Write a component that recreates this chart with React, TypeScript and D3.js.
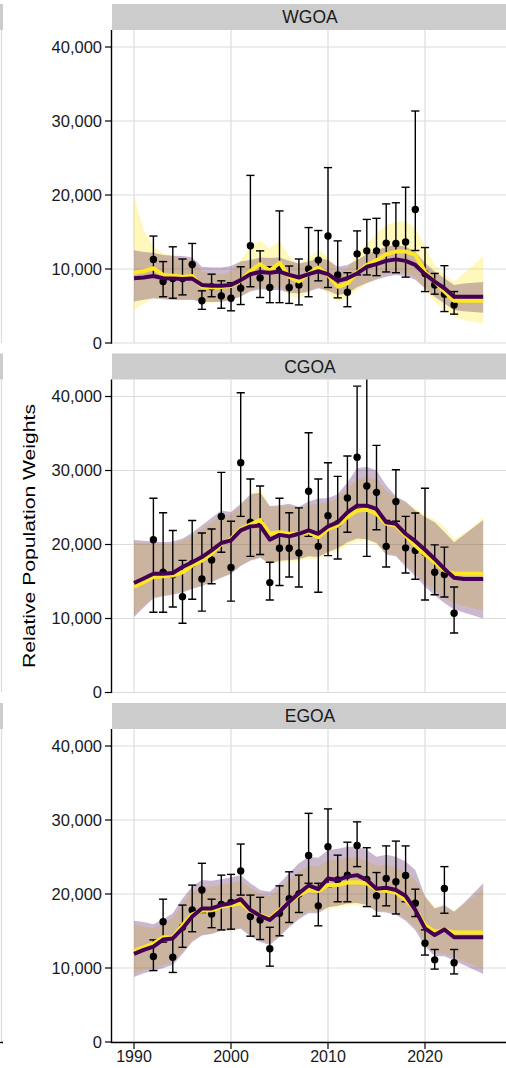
import React from "react";
import * as d3 from "d3";

// ---------- data ----------
const regions = ["WGOA", "CGOA", "EGOA"];
const lineYears = d3.range(1990, 2027); // 1990..2026
const obsYears = d3.range(1992, 2024); // 1992..2023
const yTicks = [0, 10000, 20000, 30000, 40000];
const xTicks = [1990, 2000, 2010, 2020];

// WGOA
const wgoaObs = [
  11300, 8300, 8700, 8700, 10600, 5700, 7600, 6350,
  6050, 7400, 13150, 8800, 7500, 10200, 7500, 7850, 10000, 11200,
  14450, 9200, 6850, 12050, 12450, 12450, 13500, 13450, 13650, 18050,
  9400, 7850, 6600, 5150,
];
const wgoaObsLo = [
  9000, 6250, 6050, 6500, 8600, 4550, 6250, 4700,
  4350, 5200, 7600, 6150, 5450, 5450, 5350, 5150, 6250, 8400,
  7500, 6100, 4900, 9200, 9200, 9100, 9600, 9500, 8900, 12500,
  6950, 6600, 4250, 3900,
];
const wgoaObsHi = [
  14450, 11000, 13000, 11350, 13450, 7050, 9300, 8400,
  8150, 10300, 22650, 12450, 10300, 17850, 10400, 11350, 15600, 15200,
  23700, 13800, 9500, 15150, 16700, 16850, 18800, 18950, 21050, 31350,
  12900, 9400, 10450, 6950,
];
const wgoaYellow = [
  9500, 9700, 10100, 9200, 9100, 8950, 9050, 7600, 7500, 7550,
  7700, 8400, 9750, 10650, 9750, 10850, 8950, 8300, 9400, 10200,
  9200, 7600, 8050, 9550, 10550, 11200, 12000, 12350, 12350, 11900,
  9650, 8300, 6950, 5700, 5700, 5700, 5700,
];
const wgoaYellowLo = [
  4450, 5350, 6050, 6050, 6050, 5900, 6050, 5350, 5450, 5550,
  5900, 6250, 7150, 7600, 7150, 7700, 6500, 6050, 6950, 7600,
  6700, 5600, 6050, 7150, 8050, 8750, 9400, 9500, 9400, 8950,
  7150, 5600, 4450, 3550, 3100, 2900, 2650,
];
const wgoaYellowHi = [
  19800, 15300, 13000, 12100, 11800, 11450, 11200, 9650, 9400, 9300,
  9650, 11200, 13000, 13900, 12800, 13900, 11650, 10550, 11650, 12550,
  11650, 9650, 10100, 12100, 13450, 14800, 15950, 16400, 16500, 15500,
  13000, 10550, 9200, 8300, 9400, 10550, 11750,
];
const wgoaPurple = [
  8750, 8850, 9050, 8750, 8700, 8650, 8700, 7850, 7750, 7750,
  7850, 8500, 9300, 9600, 9500, 9650, 9200, 8850, 9300, 9700,
  9300, 8400, 8750, 9400, 10300, 10650, 11100, 11300, 11100, 10550,
  9300, 8300, 7400, 6250, 6250, 6250, 6250,
];
const wgoaPurpleLo = [
  5600, 5850, 6050, 5900, 5800, 5800, 5800, 5600, 5550, 5550,
  5800, 6300, 6950, 7250, 7150, 7150, 6800, 6700, 6950, 7400,
  7050, 6500, 6700, 7550, 8100, 8550, 8950, 9200, 9050, 8550,
  7400, 6250, 5350, 4450, 4300, 4200, 4100,
];
const wgoaPurpleHi = [
  12550, 12300, 12200, 11900, 11800, 11750, 11600, 10300, 10200, 10200,
  10400, 11000, 11200, 11550, 11500, 11550, 11100, 10750, 11000, 11450,
  11200, 10300, 10550, 11200, 12000, 12550, 13000, 13250, 13000, 12350,
  10800, 9650, 8750, 7850, 8050, 8150, 8250,
];

// CGOA
const cgoaObs = [
  20650, 16250, 15900, 12950, 17400, 15350, 17900, 23800,
  16900, 31050, 23000, 22900, 14850, 19500, 19500, 18850, 27200, 19750,
  23900, 22800, 26300, 31800, 27900, 27050, 19750, 25800, 19550, 19200,
  18900, 16250, 15950, 10700,
];
const cgoaObsLo = [
  10850, 10850, 11550, 9350, 12600, 11000, 14700, 18950,
  12350, 23800, 18400, 18650, 12500, 14450, 15600, 14250, 21100, 13550,
  18500, 18050, 21650, 24800, 18400, 22000, 16950, 23150, 16150, 15300,
  12500, 13200, 12900, 8050,
];
const cgoaObsHi = [
  26250, 24300, 21900, 17850, 23250, 21550, 22100, 29750,
  23150, 40500, 28850, 27900, 17600, 26250, 24300, 24950, 35100, 28850,
  31050, 29200, 31950, 41400, 45000, 33400, 23250, 30100, 23800, 24250,
  27600, 19950, 19650, 14250,
];
const cgoaYellow = [
  14250, 14900, 15600, 15700, 15800, 16250, 17150, 17850, 18750, 20100,
  20750, 22100, 22700, 23300, 21450, 21650, 21450, 21450, 21650, 21000,
  22100, 22550, 23700, 24600, 24700, 24150, 22800, 22550, 21200, 19850,
  18650, 17600, 16500, 16050, 16050, 16050, 16050,
];
const cgoaYellowLo = [
  10500, 11700, 12900, 13100, 13300, 13600, 14100, 14500, 15000, 15600,
  16100, 17200, 17900, 18300, 17300, 17600, 17700, 17800, 18100, 18000,
  18700, 19100, 19900, 20400, 20400, 20000, 18700, 18600, 17300, 16100,
  14800, 13800, 12800, 12000, 11700, 11400, 11100,
];
const cgoaYellowHi = [
  20300, 20200, 20100, 20000, 20100, 20500, 21200, 22100, 23000, 24000,
  24000, 25300, 26600, 27650, 25100, 25100, 25300, 24900, 25300, 25500,
  25700, 26300, 27500, 28800, 29200, 28800, 27200, 26400, 25600, 24900,
  24000, 23400, 22400, 20700, 21500, 22500, 23600,
];
const cgoaPurple = [
  14800, 15400, 16050, 16050, 16150, 16950, 17600, 18300, 19200, 20200,
  20550, 21900, 22450, 22550, 20650, 21300, 21100, 21450, 21900, 21450,
  22450, 23000, 24350, 25250, 25250, 24800, 23000, 22800, 21450, 20450,
  19300, 18050, 16700, 15500, 15350, 15350, 15350,
];
const cgoaPurpleLo = [
  10200, 11500, 12700, 13000, 13200, 13500, 14000, 14400, 14900, 15500,
  16000, 17100, 17800, 18200, 17400, 17800, 17900, 18000, 18400, 18300,
  19000, 19500, 20300, 20800, 20700, 20200, 18600, 18400, 17000, 15700,
  14300, 13100, 12100, 11200, 10800, 10400, 10000,
];
const cgoaPurpleHi = [
  20600, 20500, 20400, 20300, 20400, 20800, 21600, 22600, 23600, 24600,
  24400, 25500, 26800, 27000, 25200, 25300, 25500, 25100, 25800, 26200,
  26300, 26800, 28400, 30300, 30500, 30000, 28000, 26500, 25800, 24600,
  23700, 23000, 21700, 20300, 21300, 22300, 23300,
];

// EGOA
const egoaObs = [
  11550, 16250, 11450, 15500, 17850, 20550, 17300, 18600,
  18850, 23100, 16950, 16500, 12600, 17400, 19350, 20000, 25200, 18400,
  26400, 21900, 22550, 26550, 21950, 19750, 22100, 21650, 22500, 18750,
  13350, 11100, 20750, 10700,
];
const egoaObsLo = [
  9650, 13500, 9400, 12800, 14900, 17500, 15450, 15150,
  15250, 19850, 14300, 13850, 10250, 14350, 16150, 17500, 21450, 15700,
  21000, 18950, 18950, 23700, 18300, 17000, 18400, 17300, 18950, 16950,
  11750, 9850, 17400, 9200,
];
const egoaObsHi = [
  13800, 19300, 14250, 18500, 21200, 24150, 19300, 22550,
  22650, 26750, 19850, 19550, 15500, 21100, 23000, 22550, 30900, 21450,
  31500, 25250, 27000, 29750, 26250, 22900, 26500, 27150, 26500, 20650,
  15150, 12500, 23700, 12500,
];
const egoaYellow = [
  12300, 12800, 13300, 14150, 14150, 15800, 17250, 17750, 17800, 18300,
  18500, 18750, 17700, 17150, 16700, 17850, 18950, 19850, 20550, 20400,
  21200, 21200, 21550, 21600, 21450, 20550, 20450, 20200, 19200, 17850,
  15800, 14900, 15150, 14800, 14800, 14800, 14800,
];
const egoaYellowLo = [
  9300, 9700, 10000, 10400, 10800, 12200, 13700, 14500, 14700, 15100,
  15200, 15400, 14500, 13800, 13400, 14500, 15700, 16800, 17700, 17600,
  18000, 18100, 18400, 18500, 18300, 17800, 17700, 17500, 16700, 15500,
  13300, 12100, 12000, 11500, 10900, 10400, 9900,
];
const egoaYellowHi = [
  15900, 15600, 15400, 16000, 16800, 18700, 20300, 21000, 21000, 21300,
  21500, 21800, 20800, 20000, 19700, 20800, 21900, 23000, 23800, 23700,
  24600, 24700, 24900, 24900, 24500, 23800, 23900, 23600, 23000, 21900,
  19800, 18300, 18200, 17700, 18600, 19600, 20800,
];
const egoaPurple = [
  11900, 12450, 12900, 13850, 14000, 15350, 16950, 18050, 18050, 18500,
  18750, 19300, 17850, 17050, 16500, 17600, 18950, 20100, 21150, 20650,
  22100, 21900, 22350, 22550, 21900, 20700, 20850, 20550, 19750, 17850,
  15350, 14450, 15200, 14150, 14150, 14150, 14150,
];
const egoaPurpleLo = [
  8800, 9300, 9600, 10000, 10400, 11900, 13500, 14400, 14600, 15000,
  15100, 15300, 14300, 13500, 13100, 14200, 15500, 16600, 17400, 17400,
  18200, 18400, 18700, 18800, 18500, 17600, 17500, 17200, 16400, 15100,
  12900, 11600, 11600, 11000, 10400, 9800, 9200,
];
const egoaPurpleHi = [
  16400, 16200, 15900, 16600, 17400, 19400, 21000, 21900, 21800, 22000,
  22250, 22550, 21450, 20550, 20300, 21450, 22800, 24150, 25050, 24900,
  25950, 26100, 26400, 26400, 25950, 25050, 25300, 25050, 24400, 23250,
  19650, 18050, 18500, 17600, 18800, 20100, 21450,
];

const regionData = [
  { obs: wgoaObs, lo: wgoaObsLo, hi: wgoaObsHi, yl: wgoaYellow, ylLo: wgoaYellowLo, ylHi: wgoaYellowHi, pu: wgoaPurple, puLo: wgoaPurpleLo, puHi: wgoaPurpleHi },
  { obs: cgoaObs, lo: cgoaObsLo, hi: cgoaObsHi, yl: cgoaYellow, ylLo: cgoaYellowLo, ylHi: cgoaYellowHi, pu: cgoaPurple, puLo: cgoaPurpleLo, puHi: cgoaPurpleHi },
  { obs: egoaObs, lo: egoaObsLo, hi: egoaObsHi, yl: egoaYellow, ylLo: egoaYellowLo, ylHi: egoaYellowHi, pu: egoaPurple, puLo: egoaPurpleLo, puHi: egoaPurpleHi },
];

// ---------- layout ----------
const W = 506;
const H = 1068;
const PANEL_LEFT = 112;
const PANEL_RIGHT = 506;
const FIRST_ZERO = 343;
const PANEL_STEP = 349.5;
const PANEL_H = 313;
const STRIP_H = 26;
const Y_SPAN = 296; // px for 0..40000
const YELLOW = "#FDE725";
const PURPLE = "#440154";
const FONT = "'Liberation Sans', Arial, Helvetica, sans-serif";

const x = d3.scaleLinear().domain([1990, 2020]).range([134, 425]);

function Panel({ idx }: { idx: number }) {
  const d = regionData[idx];
  const bottom = FIRST_ZERO + idx * PANEL_STEP;
  const top = bottom - PANEL_H;
  const y = d3.scaleLinear().domain([0, 40000]).range([bottom, bottom - Y_SPAN]);
  const clipId = `clip-${idx}`;

  const area = (lo: number[], hi: number[]) =>
    d3
      .area<number>()
      .x((yr) => x(yr))
      .y0((_, i) => y(lo[i]))
      .y1((_, i) => y(hi[i]))(lineYears) || "";
  const line = (vals: number[]) =>
    d3
      .line<number>()
      .x((yr) => x(yr))
      .y((_, i) => y(vals[i]))(lineYears) || "";

  const capHalf = x(1990.42) - x(1990);

  return (
    <g>
      <defs>
        <clipPath id={clipId}>
          <rect x={PANEL_LEFT} y={top} width={PANEL_RIGHT - PANEL_LEFT} height={PANEL_H} />
        </clipPath>
      </defs>
      {/* strip */}
      <rect x={PANEL_LEFT} y={top - STRIP_H} width={PANEL_RIGHT - PANEL_LEFT} height={STRIP_H} fill="#cccccc" />
      <text
        x={(PANEL_LEFT + PANEL_RIGHT) / 2 + 1}
        y={top - STRIP_H / 2}
        dy="0.36em"
        textAnchor="middle"
        fontFamily={FONT}
        fontSize={17.5}
        fill="#1a1a1a"
      >
        {regions[idx]}
      </text>
      {/* grid */}
      {yTicks.map((t) => (
        <line key={"gy" + t} x1={PANEL_LEFT} x2={PANEL_RIGHT} y1={y(t)} y2={y(t)} stroke="#dcdcdc" strokeWidth={1.2} />
      ))}
      {xTicks.map((t) => (
        <line key={"gx" + t} x1={x(t)} x2={x(t)} y1={top} y2={bottom} stroke="#dcdcdc" strokeWidth={1.2} />
      ))}
      <g clipPath={`url(#${clipId})`}>
        <path d={area(d.ylLo, d.ylHi)} fill={YELLOW} fillOpacity={0.3} />
        <path d={area(d.puLo, d.puHi)} fill={PURPLE} fillOpacity={0.28} />
        {obsYears.map((yr, i) => (
          <g key={"e" + yr} stroke="#000" strokeWidth={1.4}>
            <line x1={x(yr)} x2={x(yr)} y1={y(d.lo[i])} y2={y(d.hi[i])} />
            <line x1={x(yr) - capHalf} x2={x(yr) + capHalf} y1={y(d.lo[i])} y2={y(d.lo[i])} />
            <line x1={x(yr) - capHalf} x2={x(yr) + capHalf} y1={y(d.hi[i])} y2={y(d.hi[i])} />
          </g>
        ))}
        {obsYears.map((yr, i) => (
          <circle key={"p" + yr} cx={x(yr)} cy={y(d.obs[i])} r={3.7} fill="#000" />
        ))}
        <path d={line(d.yl)} fill="none" stroke={YELLOW} strokeWidth={4} strokeLinejoin="round" />
        <path d={line(d.pu)} fill="none" stroke={PURPLE} strokeWidth={4} strokeLinejoin="round" />
      </g>
      {/* y axis */}
      <line x1={PANEL_LEFT - 0.5} x2={PANEL_LEFT - 0.5} y1={top} y2={bottom + 0.5} stroke="#000" strokeWidth={1.4} />
      {yTicks.map((t) => (
        <g key={"yt" + t}>
          <line x1={PANEL_LEFT - 7} x2={PANEL_LEFT} y1={y(t)} y2={y(t)} stroke="#000" strokeWidth={1.2} />
          <text
            x={PANEL_LEFT - 10}
            y={y(t)}
            dy="0.36em"
            textAnchor="end"
            fontFamily={FONT}
            fontSize={16.5}
            fill="#1a1a1a"
          >
            {d3.format(",")(t)}
          </text>
        </g>
      ))}
      {/* left sliver of neighbouring panel */}
      <rect x={0} y={top - STRIP_H} width={3} height={STRIP_H} fill="#cccccc" />
      <line x1={1.5} x2={1.5} y1={top} y2={bottom} stroke="#dcdcdc" strokeWidth={1.2} />
    </g>
  );
}

export default function App() {
  const lastBottom = FIRST_ZERO + 2 * PANEL_STEP;
  return (
    <svg
      width={W}
      height={H}
      viewBox={`0 0 ${W} ${H}`}
      style={{ position: "absolute", left: 0, top: 0, background: "#fff" }}
    >
      <rect x={0} y={0} width={W} height={H} fill="#fff" />
      {regions.map((r, i) => (
        <Panel key={r} idx={i} />
      ))}
      {/* x axis on bottom panel */}
      <line x1={PANEL_LEFT - 1.2} x2={PANEL_RIGHT} y1={lastBottom + 0.5} y2={lastBottom + 0.5} stroke="#000" strokeWidth={1.4} />
      <line x1={0} x2={3} y1={lastBottom + 0.5} y2={lastBottom + 0.5} stroke="#000" strokeWidth={1.4} />
      {xTicks.map((t) => (
        <g key={"xt" + t}>
          <line x1={x(t)} x2={x(t)} y1={lastBottom} y2={lastBottom + 7} stroke="#000" strokeWidth={1.2} />
          <text
            x={x(t)}
            y={lastBottom + 20}
            textAnchor="middle"
            fontFamily={FONT}
            fontSize={16}
            fill="#1a1a1a"
          >
            {t}
          </text>
        </g>
      ))}
      <text
        transform={`translate(29, 536) rotate(-90)`}
        textAnchor="middle"
        dy="0.36em"
        fontFamily={FONT}
        fontSize={16}
        fill="#000"
        textLength={264}
        lengthAdjust="spacingAndGlyphs"
      >
        Relative Population Weights
      </text>
    </svg>
  );
}
